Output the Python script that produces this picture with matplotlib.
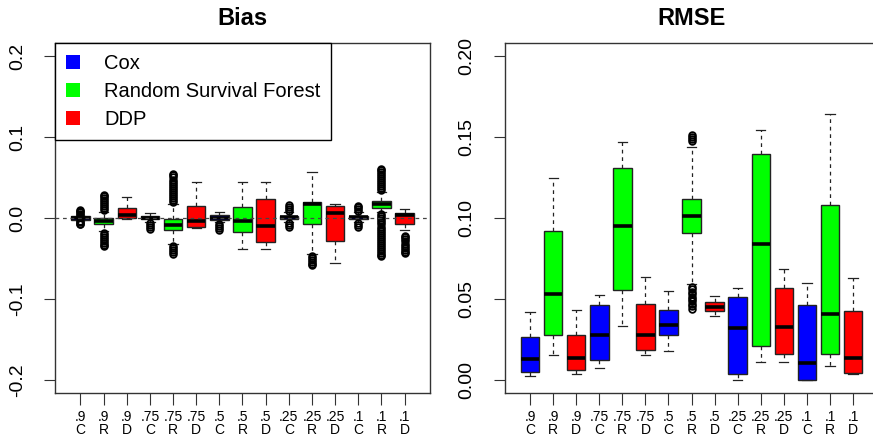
import matplotlib
matplotlib.use("Agg")
import matplotlib.pyplot as plt
from matplotlib.patches import Patch

plt.rcParams['font.family'] = ['Liberation Sans', 'DejaVu Sans']

labels = ['.9\nC', '.9\nR', '.9\nD', '.75\nC', '.75\nR', '.75\nD', '.5\nC', '.5\nR', '.5\nD',
          '.25\nC', '.25\nR', '.25\nD', '.1\nC', '.1\nR', '.1\nD']
colors = ['#0000FF', '#00FF00', '#FF0000'] * 5
legend_names = ['Cox', 'Random Survival Forest', 'DDP']

# Bias panel: whisker low, q1, median, q3, whisker high
bias_lo  = [-0.003, -0.016, -0.001, -0.005, -0.032, -0.0126, -0.005, -0.038, -0.038, -0.0045, -0.045, -0.0553, -0.005, 0.007, -0.0142]
bias_q1  = [-0.002, -0.008, -0.0005, -0.0015, -0.0142, -0.0105, -0.0022, -0.0167, -0.030, -0.0012, -0.0072, -0.0286, -0.0012, 0.0121, -0.0076]
bias_med = [0.0003, -0.0043, 0.004, 0.0005, -0.009, -0.004, -0.0005, -0.0043, -0.010, 0.001, 0.0175, 0.006, 0.001, 0.0175, 0.004]
bias_q3  = [0.0025, -0.0006, 0.012, 0.0025, -0.001, 0.0154, 0.0035, 0.013, 0.0232, 0.003, 0.020, 0.015, 0.003, 0.0204, 0.0056]
bias_hi  = [0.003, 0.008, 0.0265, 0.0064, 0.0175, 0.044, 0.008, 0.045, 0.045, 0.007, 0.0565, 0.0175, 0.0075, 0.0319, 0.0109]
bias_out = [
    [0.004, 0.0055, 0.007, 0.0085, 0.010, -0.004, -0.0055, -0.007, -0.008],
    [0.010, 0.0125, 0.015, 0.0175, 0.020, 0.0225, 0.025, 0.0275, 0.029,
     -0.018, -0.0205, -0.023, -0.0255, -0.028, -0.0305, -0.033, -0.035],
    [],
    [-0.0065, -0.009, -0.0115, -0.014],
    [0.020, 0.0225, 0.025, 0.0275, 0.030, 0.0325, 0.035, 0.0375, 0.040, 0.0425, 0.045, 0.0475, 0.050, 0.0525, 0.0545,
     -0.034, -0.0365, -0.039, -0.0415, -0.044],
    [],
    [-0.007, -0.0095, -0.012, -0.0145],
    [],
    [],
    [0.0085, 0.011, 0.0135, 0.016, -0.006, -0.0085, -0.0105],
    [-0.047, -0.0495, -0.052, -0.0545, -0.057, -0.0585],
    [],
    [0.009, 0.0115, 0.0135, 0.015, -0.0065, -0.0085, -0.0105],
    [0.034, 0.0365, 0.039, 0.0415, 0.044, 0.0465, 0.049, 0.0515, 0.054, 0.0565, 0.059, 0.061,
     0.0045, 0.002, -0.0005, -0.003, -0.0055, -0.008, -0.0105, -0.013, -0.0155, -0.018, -0.0205,
     -0.023, -0.0255, -0.028, -0.0305, -0.033, -0.0355, -0.038, -0.0405, -0.043, -0.0455, -0.047],
    [-0.0216, -0.024, -0.0265, -0.029, -0.0315, -0.034, -0.0365, -0.039, -0.0415, -0.0435],
]

# RMSE panel
rmse_lo  = [0.0025, 0.0152, 0.0035, 0.0074, 0.0331, 0.0154, 0.0177, 0.0591, 0.0393, 0.0, 0.0113, 0.0111, 0.0, 0.0085, 0.0035]
rmse_q1  = [0.0049, 0.0276, 0.0060, 0.0121, 0.0558, 0.0183, 0.0276, 0.0905, 0.0424, 0.0039, 0.0210, 0.0159, 0.0, 0.0159, 0.0045]
rmse_med = [0.0128, 0.0533, 0.0134, 0.0278, 0.0951, 0.0276, 0.0340, 0.1012, 0.0449, 0.0319, 0.0837, 0.0327, 0.0107, 0.0405, 0.0134]
rmse_q3  = [0.0265, 0.0922, 0.0276, 0.0465, 0.1309, 0.0469, 0.0430, 0.1119, 0.0479, 0.0512, 0.1393, 0.0568, 0.0465, 0.1078, 0.0426]
rmse_hi  = [0.0422, 0.1249, 0.0434, 0.0527, 0.1471, 0.0638, 0.0549, 0.1438, 0.0516, 0.0570, 0.1541, 0.0683, 0.0599, 0.1642, 0.0630]
rmse_out = [[] for _ in range(15)]
rmse_out[7] = [0.1478, 0.149, 0.1502, 0.1515,
               0.0575, 0.056, 0.0545, 0.053, 0.0515, 0.050, 0.0485, 0.047, 0.0455, 0.044]


def stats(lo, q1, med, q3, hi, out):
    return [dict(whislo=lo[i], q1=q1[i], med=med[i], q3=q3[i], whishi=hi[i], fliers=out[i])
            for i in range(len(med))]


def draw(ax, st, title, ylim, yticks, yfmt):
    pos = list(range(1, 16))
    bp = ax.bxp(st, positions=pos, widths=0.8, capwidths=0.4, patch_artist=True,
                boxprops=dict(edgecolor='#222222', linewidth=1),
                medianprops=dict(color='black', linewidth=2.6, solid_capstyle='butt'),
                whiskerprops=dict(color='#222222', linewidth=0.9, linestyle=(0, (3, 3))),
                capprops=dict(color='#222222', linewidth=0.9),
                flierprops=dict(marker='o', markersize=4.8, markerfacecolor='none',
                                markeredgecolor='black', markeredgewidth=1.3))
    for patch, c in zip(bp['boxes'], colors):
        patch.set_facecolor(c)
    ax.set_xlim(-0.1, 16.1)
    ax.set_ylim(*ylim)
    ax.set_xticks(pos)
    ax.set_xticklabels(labels, fontsize=10, linespacing=0.9)
    ax.set_yticks(yticks)
    ax.set_yticklabels([yfmt % v for v in yticks], fontsize=14, rotation=90, va='center')
    ax.tick_params(axis='y', length=8, pad=13, color='#333333')
    ax.tick_params(axis='x', length=8.5, pad=4, color='#333333')
    for s in ax.spines.values():
        s.set_color('#333333')
        s.set_linewidth(1)
    ax.set_title(title, fontsize=17, fontweight='bold', pad=13)


fig = plt.figure(figsize=(8.73, 4.42), dpi=100)
W, H = 873, 442
ax1 = fig.add_axes([55 / W, (H - 393) / H, 375 / W, 350 / H])
ax2 = fig.add_axes([504.7 / W, (H - 393) / H, 373.7 / W, 350 / H])

draw(ax1, stats(bias_lo, bias_q1, bias_med, bias_q3, bias_hi, bias_out), 'Bias',
     (-0.216, 0.216), [-0.2, -0.1, 0.0, 0.1, 0.2], '%.1f')
ax1.axhline(0, color='#444444', linewidth=0.9, linestyle=(0, (3, 3)), zorder=5)

draw(ax2, stats(rmse_lo, rmse_q1, rmse_med, rmse_q3, rmse_hi, rmse_out), 'RMSE',
     (-0.008, 0.208), [0.0, 0.05, 0.10, 0.15, 0.20], '%.2f')

handles = [Patch(facecolor=colors[i], edgecolor='none') for i in range(3)]
leg = ax1.legend(handles, legend_names, loc='upper left', bbox_to_anchor=(0, 1),
                 borderaxespad=0, fontsize=14.5, fancybox=False, handlelength=0.68,
                 handleheight=0.68, handletextpad=1.2, labelspacing=0.45, borderpad=0.55)
leg.get_frame().set_edgecolor('black')
leg.get_frame().set_linewidth(1)
leg.get_frame().set_alpha(1)

fig.savefig('out.png', dpi=100)
